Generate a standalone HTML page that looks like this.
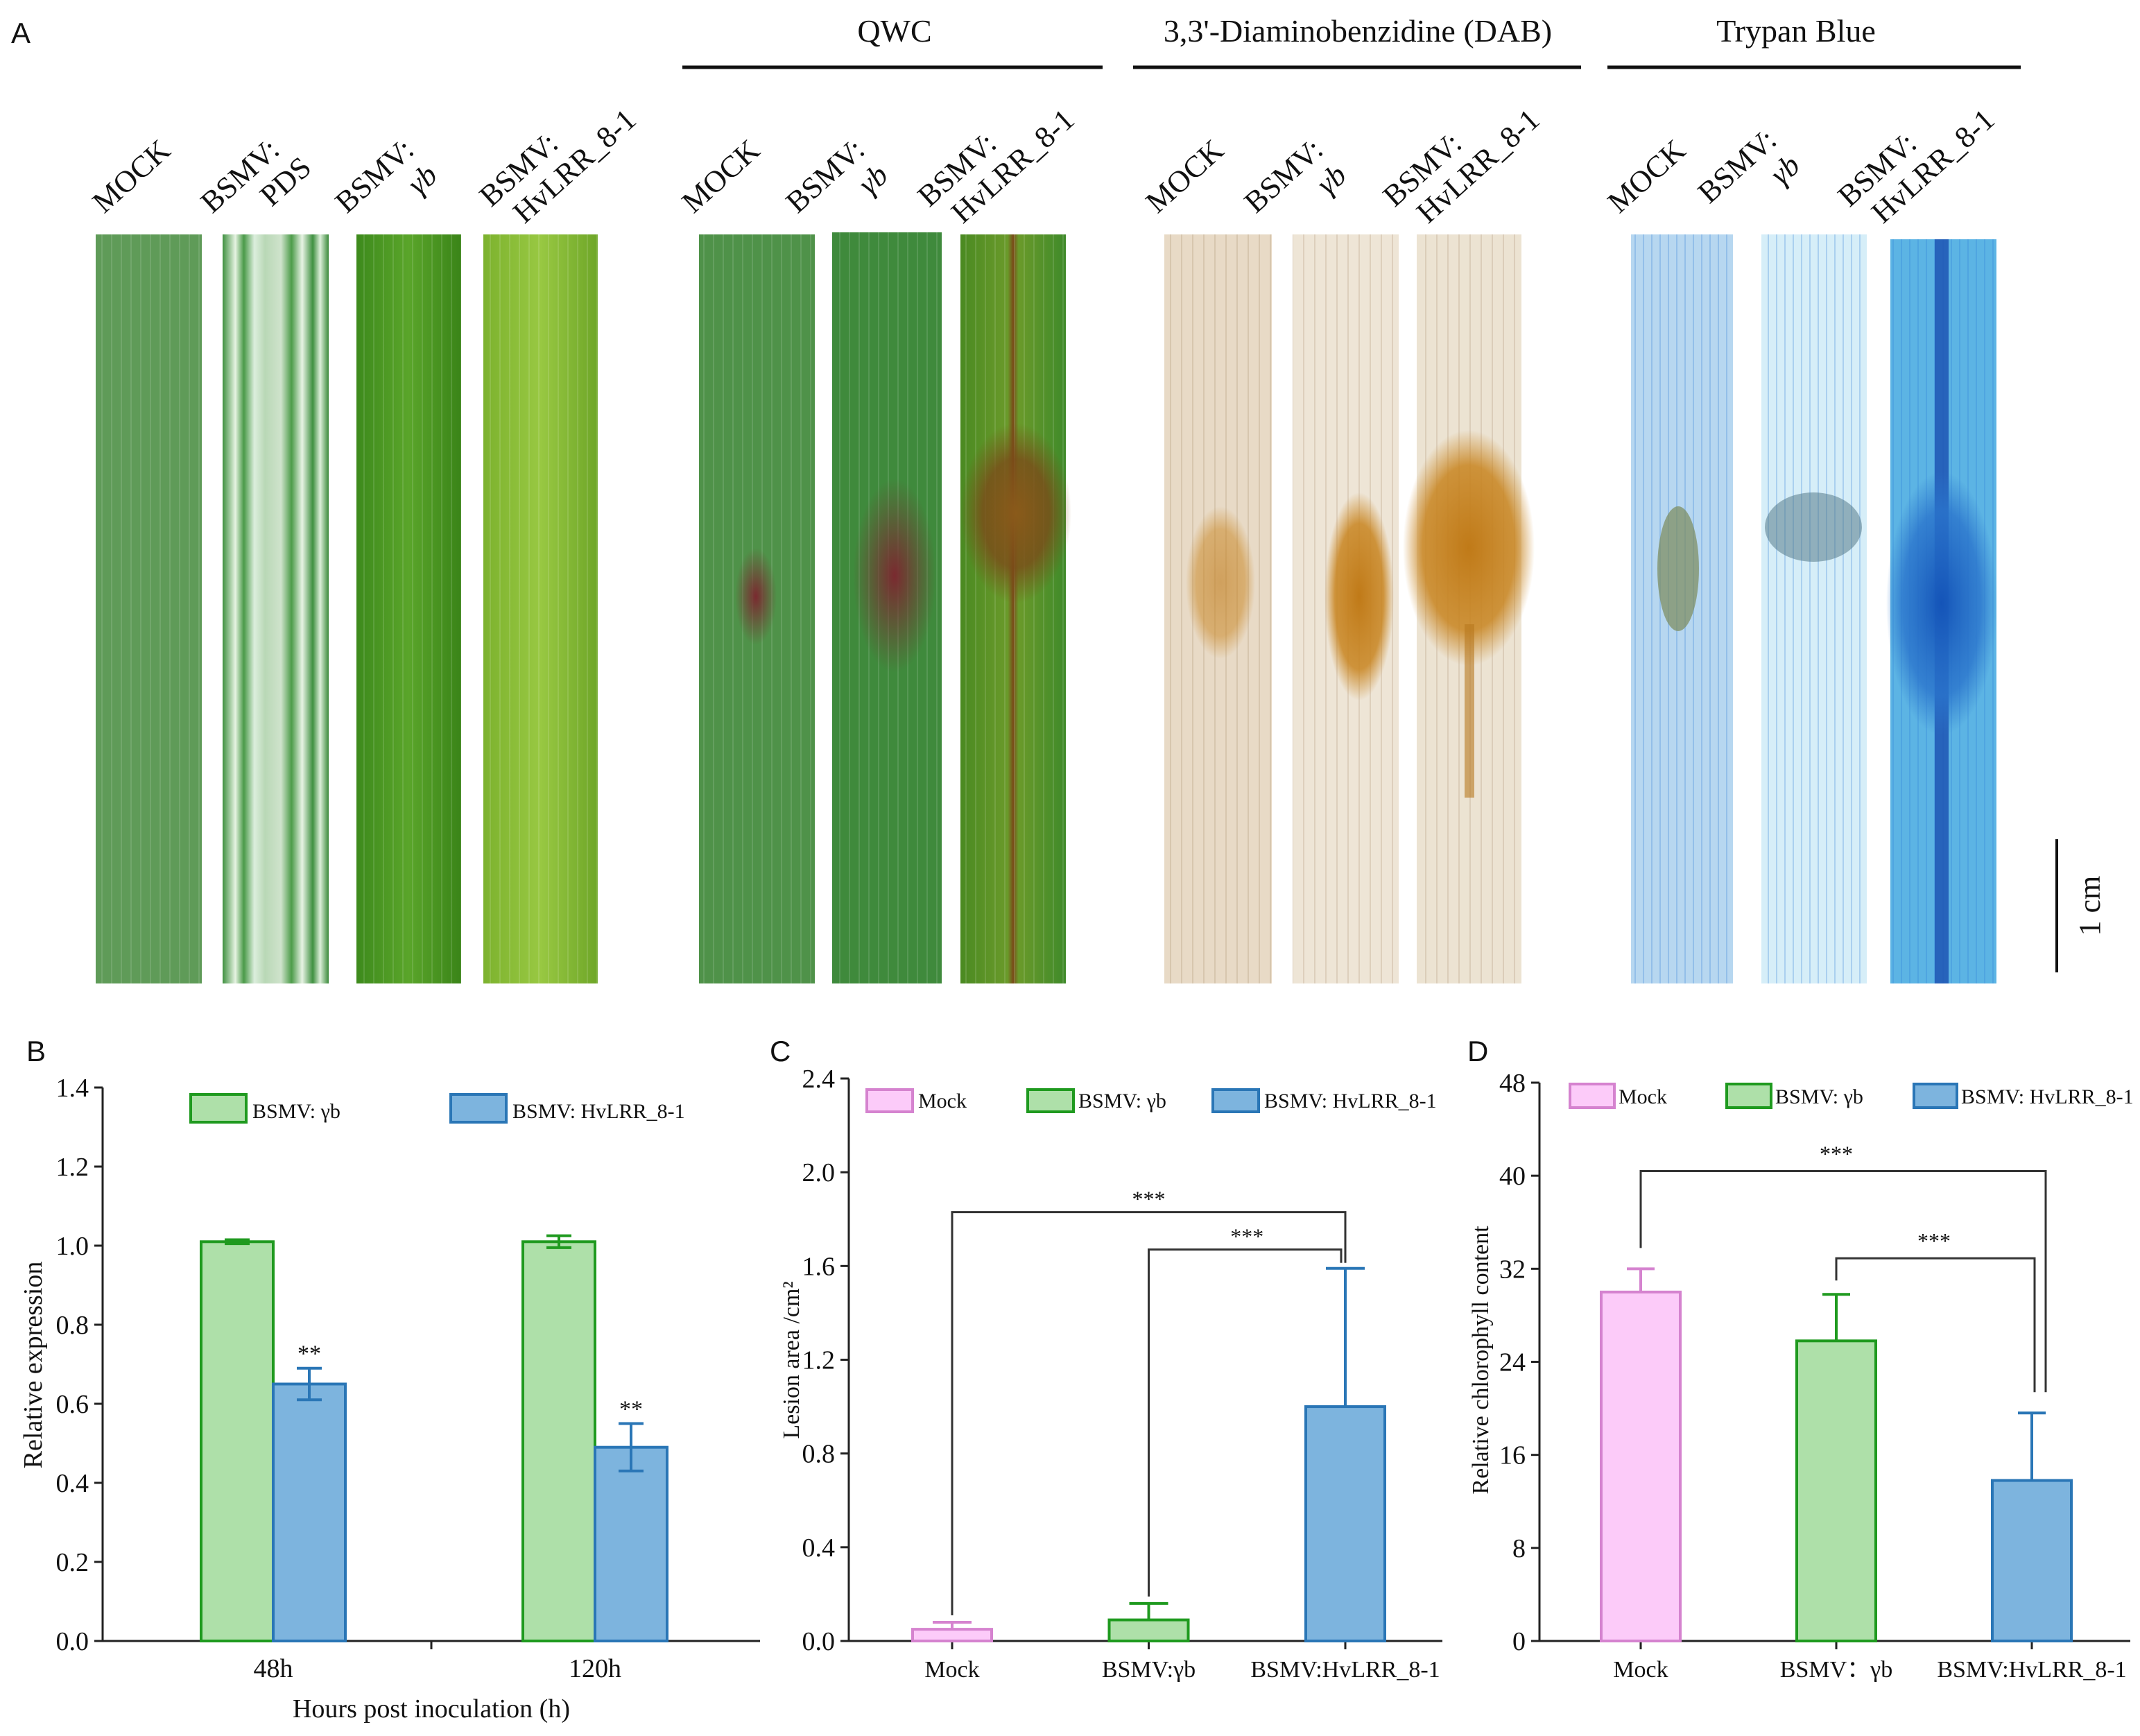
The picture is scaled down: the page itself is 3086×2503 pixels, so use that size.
<!DOCTYPE html>
<html><head><meta charset="utf-8"><title>Figure</title>
<style>
html,body{margin:0;padding:0;background:#fff;}
svg{display:block;font-family:"Liberation Serif",serif;}
.lbl{font-size:44px;fill:#111;}
</style></head>
<body>
<svg id="fig" width="3086" height="2503" viewBox="0 0 3086 2503" xmlns="http://www.w3.org/2000/svg">
<defs>
 <pattern id="veins" width="14" height="10" patternUnits="userSpaceOnUse"><rect width="14" height="10" fill="none"/><line x1="7" y1="0" x2="7" y2="10" stroke="rgba(255,255,255,0.12)" stroke-width="2"/></pattern>
 <pattern id="veinsDark" width="16" height="10" patternUnits="userSpaceOnUse"><line x1="8" y1="0" x2="8" y2="10" stroke="rgba(120,80,40,0.15)" stroke-width="2"/></pattern>
 <pattern id="veinsBlue" width="12" height="10" patternUnits="userSpaceOnUse"><line x1="6" y1="0" x2="6" y2="10" stroke="rgba(40,120,210,0.25)" stroke-width="2"/></pattern>
 <linearGradient id="pds" x1="0" x2="1" y1="0" y2="0">
  <stop offset="0" stop-color="#3f9040"/><stop offset="0.12" stop-color="#e6f3e2"/><stop offset="0.2" stop-color="#4a9a48"/><stop offset="0.3" stop-color="#dceedd"/><stop offset="0.4" stop-color="#b9d8b6"/><stop offset="0.55" stop-color="#cfe3cc"/><stop offset="0.65" stop-color="#4d9c4a"/><stop offset="0.75" stop-color="#e8f3e5"/><stop offset="0.85" stop-color="#3f9040"/><stop offset="0.92" stop-color="#dcefd9"/><stop offset="1" stop-color="#3a8a3a"/>
 </linearGradient>
 <linearGradient id="gb" x1="0" x2="1"><stop offset="0" stop-color="#3d8a1c"/><stop offset="0.5" stop-color="#5aa52a"/><stop offset="1" stop-color="#3a8418"/></linearGradient>
 <linearGradient id="hv" x1="0" x2="1"><stop offset="0" stop-color="#7cb22e"/><stop offset="0.5" stop-color="#98c842"/><stop offset="1" stop-color="#6ea628"/></linearGradient>
 <linearGradient id="qhv" x1="0" x2="1"><stop offset="0" stop-color="#4a8a22"/><stop offset="0.45" stop-color="#6a9a2a"/><stop offset="0.5" stop-color="#7a4a18"/><stop offset="0.55" stop-color="#6a9a2a"/><stop offset="1" stop-color="#3f8a2a"/></linearGradient>
 <radialGradient id="brownLes"><stop offset="0" stop-color="#8a5a1a"/><stop offset="0.6" stop-color="#7a4a18" stop-opacity="0.8"/><stop offset="1" stop-color="#7a4a18" stop-opacity="0"/></radialGradient>
 <radialGradient id="orangeLes"><stop offset="0" stop-color="#c07a18"/><stop offset="0.7" stop-color="#c8841f" stop-opacity="0.85"/><stop offset="1" stop-color="#c8841f" stop-opacity="0"/></radialGradient>
 <radialGradient id="blueLes"><stop offset="0" stop-color="#1454b8"/><stop offset="0.7" stop-color="#2a74cc" stop-opacity="0.8"/><stop offset="1" stop-color="#2a74cc" stop-opacity="0"/></radialGradient>
 <radialGradient id="dotsRed"><stop offset="0" stop-color="#7a2a30"/><stop offset="1" stop-color="#7a2a30" stop-opacity="0"/></radialGradient>
</defs>

<text x="16" y="62" font-family="Liberation Sans, sans-serif" font-size="42" fill="#111">A</text>

<!-- group headers -->
<text x="1290" y="60" text-anchor="middle" font-size="46" fill="#111">QWC</text>
<line x1="984" y1="97" x2="1590" y2="97" stroke="#111" stroke-width="5"/>
<text x="1958" y="60" text-anchor="middle" font-size="46" fill="#111">3,3'-Diaminobenzidine (DAB)</text>
<line x1="1634" y1="97" x2="2280" y2="97" stroke="#111" stroke-width="5"/>
<text x="2590" y="60" text-anchor="middle" font-size="46" fill="#111">Trypan Blue</text>
<line x1="2318" y1="97" x2="2914" y2="97" stroke="#111" stroke-width="5"/>

<!-- rotated labels -->
<g class="lbl">
 <text transform="translate(150,309) rotate(-42)">MOCK</text>
 <text transform="translate(306,309) rotate(-42)">BSMV:<tspan x="70" dy="50">PDS</tspan></text>
 <text transform="translate(500,309) rotate(-42)">BSMV:<tspan x="95" dy="50" font-style="italic">γb</tspan></text>
 <text transform="translate(708,300) rotate(-42)">BSMV:<tspan x="20" dy="50">HvLRR_8-1</tspan></text>
 <text transform="translate(1000,309) rotate(-42)">MOCK</text>
 <text transform="translate(1150,309) rotate(-42)">BSMV:<tspan x="95" dy="50" font-style="italic">γb</tspan></text>
 <text transform="translate(1340,300) rotate(-42)">BSMV:<tspan x="20" dy="50">HvLRR_8-1</tspan></text>
 <text transform="translate(1669,309) rotate(-42)">MOCK</text>
 <text transform="translate(1811,309) rotate(-42)">BSMV:<tspan x="95" dy="50" font-style="italic">γb</tspan></text>
 <text transform="translate(2011,300) rotate(-42)">BSMV:<tspan x="20" dy="50">HvLRR_8-1</tspan></text>
 <text transform="translate(2335,309) rotate(-42)">MOCK</text>
 <text transform="translate(2465,295) rotate(-42)">BSMV:<tspan x="95" dy="50" font-style="italic">γb</tspan></text>
 <text transform="translate(2667,300) rotate(-42)">BSMV:<tspan x="20" dy="50">HvLRR_8-1</tspan></text>
</g>

<!-- leaves -->
<g>
 <rect x="138" y="338" width="153" height="1080" fill="#5f9b58"/>
 <rect x="138" y="338" width="153" height="1080" fill="url(#veins)"/>
 <rect x="321" y="338" width="153" height="1080" fill="url(#pds)"/>
 <rect x="514" y="338" width="151" height="1080" fill="url(#gb)"/>
 <rect x="514" y="338" width="151" height="1080" fill="url(#veins)"/>
 <rect x="697" y="338" width="165" height="1080" fill="url(#hv)"/>
 <rect x="697" y="338" width="165" height="1080" fill="url(#veins)"/>

 <rect x="1008" y="338" width="167" height="1080" fill="#4f9249"/>
 <rect x="1008" y="338" width="167" height="1080" fill="url(#veins)"/>
 <ellipse cx="1090" cy="860" rx="30" ry="70" fill="url(#dotsRed)"/>
 <rect x="1200" y="335" width="158" height="1083" fill="#3f8a3c"/>
 <rect x="1200" y="335" width="158" height="1083" fill="url(#veins)"/>
 <ellipse cx="1290" cy="830" rx="60" ry="140" fill="url(#dotsRed)"/>
 <rect x="1385" y="338" width="152" height="1080" fill="url(#qhv)"/>
 <rect x="1385" y="338" width="152" height="1080" fill="url(#veins)"/>
 <ellipse cx="1465" cy="740" rx="80" ry="130" fill="url(#brownLes)"/>

 <rect x="1679" y="338" width="155" height="1080" fill="#e8dac6"/>
 <rect x="1679" y="338" width="155" height="1080" fill="url(#veinsDark)"/>
 <ellipse cx="1760" cy="840" rx="50" ry="110" fill="url(#orangeLes)" opacity="0.6"/>
 <rect x="1864" y="338" width="153" height="1080" fill="#eee5d6"/>
 <rect x="1864" y="338" width="153" height="1080" fill="url(#veinsDark)"/>
 <ellipse cx="1960" cy="860" rx="50" ry="150" fill="url(#orangeLes)"/>
 <rect x="2043" y="338" width="151" height="1080" fill="#ece3d2"/>
 <rect x="2043" y="338" width="151" height="1080" fill="url(#veinsDark)"/>
 <ellipse cx="2118" cy="790" rx="95" ry="170" fill="url(#orangeLes)"/>
 <rect x="2112" y="900" width="14" height="250" fill="#b8781e" opacity="0.6"/>

 <rect x="2352" y="338" width="147" height="1080" fill="#b7d7f0"/>
 <rect x="2352" y="338" width="147" height="1080" fill="url(#veinsBlue)"/>
 <ellipse cx="2420" cy="820" rx="30" ry="90" fill="#7a8a5a" opacity="0.7"/>
 <rect x="2540" y="338" width="152" height="1080" fill="#d6eef8"/>
 <rect x="2540" y="338" width="152" height="1080" fill="url(#veinsBlue)"/>
 <ellipse cx="2615" cy="760" rx="70" ry="50" fill="#4a7080" opacity="0.5"/>
 <rect x="2726" y="345" width="153" height="1073" fill="#5cb4e4"/>
 <rect x="2726" y="345" width="153" height="1073" fill="url(#veinsBlue)"/>
 <rect x="2790" y="345" width="20" height="1073" fill="#1a4fb0" opacity="0.8"/>
 <ellipse cx="2800" cy="870" rx="80" ry="190" fill="url(#blueLes)"/>
</g>

<line x1="2966" y1="1210" x2="2966" y2="1402" stroke="#111" stroke-width="4"/>
<text transform="translate(3028,1306) rotate(-90)" text-anchor="middle" font-size="44" fill="#111">1 cm</text>

<text x="38" y="1530" font-family="Liberation Sans, sans-serif" font-size="42" fill="#111">B</text>
<text x="1110" y="1530" font-family="Liberation Sans, sans-serif" font-size="42" fill="#111">C</text>
<text x="2116" y="1530" font-family="Liberation Sans, sans-serif" font-size="42" fill="#111">D</text>

<g id="chartB"></g>
<g id="chartC"></g>
<g id="chartD"></g>
</svg>

<script>
// ---- Chart B data ----
const bCategories = ['48h', '120h'];
const bSeriesNames = ['BSMV: γb', 'BSMV: HvLRR_8-1'];
const bValuesYb = [1.01, 1.01];
const bErrYb = [0.005, 0.015];
const bValuesHv = [0.65, 0.49];
const bErrHv = [0.04, 0.06];
const bSig = ['**', '**'];
const bTicks = [0, 0.2, 0.4, 0.6, 0.8, 1.0, 1.2, 1.4];
// ---- Chart C data ----
const cCategories = ['Mock', 'BSMV:γb', 'BSMV:HvLRR_8-1'];
const cLegend = ['Mock', 'BSMV: γb', 'BSMV: HvLRR_8-1'];
const cValues = [0.05, 0.09, 1.0];
const cErr = [0.03, 0.07, 0.59];
const cTicks = [0, 0.4, 0.8, 1.2, 1.6, 2.0, 2.4];
const cBracketLevels = [1.83, 1.67];
// ---- Chart D data ----
const dCategories = ['Mock', 'BSMV：γb', 'BSMV:HvLRR_8-1'];
const dLegend = ['Mock', 'BSMV: γb', 'BSMV: HvLRR_8-1'];
const dValues = [30, 25.8, 13.8];
const dErr = [2, 4, 5.8];
const dTicks = [0, 8, 16, 24, 32, 40, 48];
const dBracketLevels = [40.4, 32.9];

const NS = 'http://www.w3.org/2000/svg';
const fills = [['#fccbf9', '#d583cf'], ['#aee0a9', '#1f9a1f'], ['#7db4de', '#2a76b6']];

function mk(parent, tag, attrs, name) {
  const el = document.createElementNS(NS, tag);
  for (const k in attrs) el.setAttribute(k, attrs[k]);
  
  
  parent.appendChild(el);
  return el;
}
function txt(parent, x, y, s, size, anchor, name, extra) {
  const t = mk(parent, 'text', Object.assign({x: x, y: y, 'font-size': size, 'text-anchor': anchor || 'middle', fill: '#111'}, extra || {}), name);
  t.textContent = s;
  return t;
}
function axes(g, x0, x1, y0, ticks, yScale, fmt, pre, tickX) {
  mk(g, 'line', {x1: x0, y1: y0, x2: x1, y2: y0, stroke: '#222', 'stroke-width': 3}, pre + '-x-axis');
  mk(g, 'line', {x1: x0, y1: y0, x2: x0, y2: yScale(ticks[ticks.length - 1]), stroke: '#222', 'stroke-width': 3}, pre + '-y-axis');
  ticks.forEach(function (t) {
    const y = yScale(t);
    mk(g, 'line', {x1: x0 - 12, y1: y, x2: x0, y2: y, stroke: '#222', 'stroke-width': 3}, pre + '-y-tick');
    txt(g, x0 - 20, y + 13, fmt(t), 38, 'end', pre + '-y-tick-label');
  });
  tickX.forEach(function (x) {
    mk(g, 'line', {x1: x, y1: y0, x2: x, y2: y0 + 12, stroke: '#222', 'stroke-width': 3}, pre + '-x-tick');
  });
}
function bar(g, x, w, v, yScale, col, name) {
  const y0 = yScale(0), y = yScale(v);
  mk(g, 'rect', {x: x, y: y, width: w, height: y0 - y, fill: col[0], stroke: col[1], 'stroke-width': 4}, name);
}
function err(g, cx, v, e, yScale, col, both, cap, name) {
  const yt = yScale(v + e), yb = both ? yScale(v - e) : yScale(v);
  mk(g, 'line', {x1: cx, y1: yt, x2: cx, y2: yb, stroke: col, 'stroke-width': 4}, name);
  mk(g, 'line', {x1: cx - cap / 2, y1: yt, x2: cx + cap / 2, y2: yt, stroke: col, 'stroke-width': 4}, name + '-cap');
  if (both) mk(g, 'line', {x1: cx - cap / 2, y1: yb, x2: cx + cap / 2, y2: yb, stroke: col, 'stroke-width': 4}, name + '-cap-low');
}
function legendItem(g, x, y, w, h, col, label, tx, name) {
  mk(g, 'rect', {x: x, y: y, width: w, height: h, fill: col[0], stroke: col[1], 'stroke-width': 4}, name + '-swatch');
  txt(g, tx, y + h - 6, label, 30, 'start', name + '-label');
}

// ---- Chart B ----
(function () {
  const g = document.getElementById('chartB');
  const yB = function (v) { return 2366 - v / 1.4 * (2366 - 1568); };
  const xB = function (i) { return 394 + i * 464; };
  const bw = 104;
  axes(g, 148, 1096, yB(0), bTicks, yB, function (t) { return t.toFixed(1); }, 'b', [622]);
  bCategories.forEach(function (c, i) {
    const cx = xB(i);
    bar(g, cx - bw, bw, bValuesYb[i], yB, fills[1], 'b-bar-yb-' + c);
    bar(g, cx, bw, bValuesHv[i], yB, fills[2], 'b-bar-hv-' + c);
    err(g, cx - bw / 2, bValuesYb[i], bErrYb[i], yB, '#1f9a1f', true, 36, 'b-err-yb-' + c);
    err(g, cx + bw / 2, bValuesHv[i], bErrHv[i], yB, '#2a76b6', true, 36, 'b-err-hv-' + c);
    txt(g, cx + bw / 2, yB(bValuesHv[i] + bErrHv[i]) - 10, bSig[i], 34, 'middle', 'b-sig-' + c);
    txt(g, cx, 2418, c, 38, 'middle', 'b-x-label-' + c);
  });
  legendItem(g, 275, 1578, 80, 40, fills[1], bSeriesNames[0], 364, 'b-legend-yb');
  legendItem(g, 650, 1578, 80, 40, fills[2], bSeriesNames[1], 739, 'b-legend-hv');
  txt(g, 622, 2476, 'Hours post inoculation (h)', 38, 'middle', 'b-x-axis-title');
  txt(g, 0, 0, 'Relative expression', 38, 'middle', 'b-y-axis-title', {transform: 'translate(60,1968) rotate(-90)'});
})();

// ---- Chart C ----
(function () {
  const g = document.getElementById('chartC');
  const yC = function (v) { return 2366 - v / 2.4 * (2366 - 1555); };
  const xC = function (i) { return 1373 + i * 283.5; };
  const bw = 114;
  axes(g, 1224, 2080, yC(0), cTicks, yC, function (t) { return t.toFixed(1); }, 'c', cCategories.map(function (c, i) { return xC(i); }));
  cCategories.forEach(function (c, i) {
    const cx = xC(i);
    bar(g, cx - bw / 2, bw, cValues[i], yC, fills[i], 'c-bar-' + i);
    err(g, cx, cValues[i], cErr[i], yC, fills[i][1], false, 56, 'c-err-' + i);
    txt(g, cx, 2418, c, 34, 'middle', 'c-x-label-' + i);
  });
  // brackets
  const top0 = yC(cBracketLevels[0]), top1 = yC(cBracketLevels[1]), drop = yC(cValues[2] + cErr[2]) - 8;
  mk(g, 'polyline', {points: xC(0) + ',' + (yC(cValues[0] + cErr[0]) - 10) + ' ' + xC(0) + ',' + top0 + ' ' + xC(2) + ',' + top0 + ' ' + xC(2) + ',' + drop, fill: 'none', stroke: '#333', 'stroke-width': 3}, 'c-bracket-mock-hv');
  mk(g, 'polyline', {points: xC(1) + ',' + (yC(cValues[1] + cErr[1]) - 10) + ' ' + xC(1) + ',' + top1 + ' ' + (xC(2) - 6) + ',' + top1 + ' ' + (xC(2) - 6) + ',' + drop, fill: 'none', stroke: '#333', 'stroke-width': 3}, 'c-bracket-yb-hv');
  txt(g, (xC(0) + xC(2)) / 2, top0 - 8, '***', 32, 'middle', 'c-sig-mock-hv');
  txt(g, (xC(1) + xC(2)) / 2, top1 - 8, '***', 32, 'middle', 'c-sig-yb-hv');
  legendItem(g, 1250, 1571, 66, 32, fills[0], cLegend[0], 1324, 'c-legend-mock');
  legendItem(g, 1482, 1571, 66, 32, fills[1], cLegend[1], 1555, 'c-legend-yb');
  legendItem(g, 1749, 1571, 66, 32, fills[2], cLegend[2], 1823, 'c-legend-hv');
  txt(g, 0, 0, 'Lesion area /cm²', 34, 'middle', 'c-y-axis-title', {transform: 'translate(1152,1961) rotate(-90)'});
})();

// ---- Chart D ----
(function () {
  const g = document.getElementById('chartD');
  const yD = function (v) { return 2366 - v / 48 * (2366 - 1561); };
  const xD = function (i) { return 2366 + i * 282; };
  const bw = 114;
  axes(g, 2220, 3072, yD(0), dTicks, yD, function (t) { return String(t); }, 'd', dCategories.map(function (c, i) { return xD(i); }));
  dCategories.forEach(function (c, i) {
    const cx = xD(i);
    bar(g, cx - bw / 2, bw, dValues[i], yD, fills[i], 'd-bar-' + i);
    err(g, cx, dValues[i], dErr[i], yD, fills[i][1], false, 40, 'd-err-' + i);
    txt(g, cx, 2418, c, 34, 'middle', 'd-x-label-' + i);
  });
  const top0 = yD(dBracketLevels[0]), top1 = yD(dBracketLevels[1]), drop = yD(dValues[2] + dErr[2]) - 30;
  mk(g, 'polyline', {points: xD(0) + ',' + (yD(dValues[0] + dErr[0]) - 30) + ' ' + xD(0) + ',' + top0 + ' ' + (xD(2) + 20) + ',' + top0 + ' ' + (xD(2) + 20) + ',' + drop, fill: 'none', stroke: '#333', 'stroke-width': 3}, 'd-bracket-mock-hv');
  mk(g, 'polyline', {points: xD(1) + ',' + (yD(dValues[1] + dErr[1]) - 20) + ' ' + xD(1) + ',' + top1 + ' ' + (xD(2) + 4) + ',' + top1 + ' ' + (xD(2) + 4) + ',' + drop, fill: 'none', stroke: '#333', 'stroke-width': 3}, 'd-bracket-yb-hv');
  txt(g, (xD(0) + xD(2)) / 2, top0 - 14, '***', 32, 'middle', 'd-sig-mock-hv');
  txt(g, (xD(1) + xD(2)) / 2, top1 - 14, '***', 32, 'middle', 'd-sig-yb-hv');
  legendItem(g, 2264, 1563, 64, 34, fills[0], dLegend[0], 2334, 'd-legend-mock');
  legendItem(g, 2490, 1563, 64, 34, fills[1], dLegend[1], 2560, 'd-legend-yb');
  legendItem(g, 2760, 1563, 62, 34, fills[2], dLegend[2], 2828, 'd-legend-hv');
  txt(g, 0, 0, 'Relative chlorophyll content', 34, 'middle', 'd-y-axis-title', {transform: 'translate(2146,1961) rotate(-90)'});
})();
</script>
</body></html>
